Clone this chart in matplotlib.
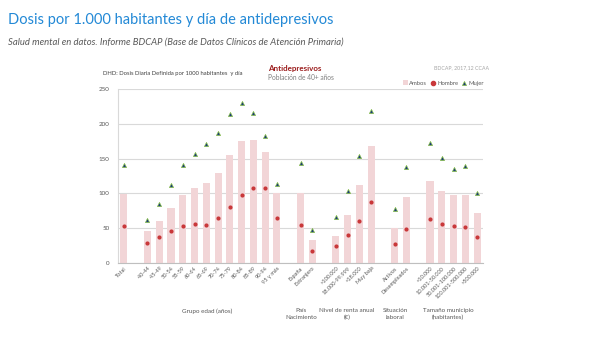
import matplotlib
matplotlib.use("Agg")
import matplotlib.pyplot as plt
from matplotlib.lines import Line2D
from matplotlib.patches import Patch

plt.rcParams['font.family'] = ['Lato', 'DejaVu Sans']

# groups of categories (a blank slot is left between groups)
group_names = ["", "Grupo edad (años)", "País\nNacimiento", "Nivel de renta anual\n(€)",
               "Situación\nlaboral", "Tamaño municipio\n(habitantes)"]
group_cats = [
    ["Total"],
    ["40-44", "45-49", "50-54", "55-59", "60-64", "65-69", "70-74", "75-79",
     "80-84", "85-89", "90-94", "95 y más"],
    ["España", "Extranjero"],
    [">100.000", "18.000-99.999", "<18.000", "Muy baja"],
    ["Activos", "Desempleados"],
    ["<10.000", "10.001-50.000", "50.001-100.000", "100.001-500.000", ">500.000"],
]

ambos = [99, 45.5, 61, 78.5, 97, 108, 115, 130, 155.5, 176, 177, 160, 100.8,
         100.8, 33, 39.3, 69, 112.3, 168.4, 50.4, 95.5,
         118.5, 104, 97, 98.4, 72.5]
hombre = [53.3, 29.3, 38, 46, 53.3, 56.6, 54.7, 64.3, 81, 98, 107.5, 108, 65.3,
          54.2, 17.8, 24, 40.8, 61, 87.8, 27.8, 48.5,
          63.8, 56.1, 52.8, 51.8, 38]
mujer = [140.6, 61.4, 85.4, 111.8, 140.6, 156.4, 170.8, 186.2, 213.5, 229.4, 216, 182.8, 113.2,
         143, 47.5, 66.7, 103, 153.6, 217.8, 77.3, 138.2,
         172.7, 151, 135.3, 139.2, 100.8]

# x positions with one empty slot between groups
xpos, labels = [], []
pos = 0
for cats in group_cats:
    for c in cats:
        xpos.append(pos)
        labels.append(c)
        pos += 1
    pos += 1
n_slots = pos - 1

fig = plt.figure(figsize=(6.09, 3.43), dpi=100)
fig.patch.set_facecolor("white")

fig.text(8 / 609, 1 - 20 / 343, "Dosis por 1.000 habitantes y día de antidepresivos",
         fontsize=10.5, color="#2389d6", va="center")
fig.text(8 / 609, 1 - 42 / 343,
         "Salud mental en datos. Informe BDCAP (Base de Datos Clínicos de Atención Primaria)",
         fontsize=6.8, style="italic", color="#595959", va="center")

ax = fig.add_axes([118 / 609, 1 - 263 / 343, 365 / 609, 174 / 343])

ax.bar(xpos, ambos, width=0.6, color="#f2d5d7", zorder=2)
ax.scatter(xpos, hombre, s=9, marker="o", color="#c9383a", zorder=3, linewidths=0)
ax.scatter(xpos, mujer, s=9, marker="^", facecolor="#1f3d7a", edgecolor="#8bc34a",
           linewidths=0.5, zorder=3)

ax.set_xlim(-0.5, n_slots - 0.5)
ax.set_ylim(0, 250)
ax.set_yticks(range(0, 251, 50))
ax.yaxis.grid(True, color="#d9d9d9", lw=0.8, zorder=0)
ax.set_axisbelow(True)
ax.tick_params(axis="y", length=0, labelsize=4.5, labelcolor="#595959", pad=6)
ax.set_xticks(xpos)
ax.set_xticklabels(labels, rotation=45, ha="right", rotation_mode="anchor",
                   fontsize=4.1, color="#595959")
ax.tick_params(axis="x", length=0, pad=2)
for s in ["top", "right"]:
    ax.spines[s].set_visible(False)
ax.spines["left"].set_color("#d9d9d9")
ax.spines["bottom"].set_color("#bfbfbf")

# group labels under the axis
group_label_x = [None, 207, 301, 347, 395, 448]
for name, gx in zip(group_names, group_label_x):
    if gx is None:
        continue
    fig.text(gx / 609, 1 - 308 / 343, name, fontsize=4.5, color="#595959",
             ha="center", va="top", linespacing=1.5)

fig.text(103 / 609, 1 - 73 / 343, "DHD: Dosis Diaria Definida por 1000 habitantes  y día",
         fontsize=4.2, color="#404040", va="center")
fig.text(268 / 609, 1 - 68 / 343, "Antidepresivos", fontsize=5.8, color="#9b1c1c",
         fontweight="bold", va="center")
fig.text(268 / 609, 1 - 78 / 343, "Población de 40+ años", fontsize=4.8, color="#7f7f7f",
         va="center")
fig.text(489 / 609, 1 - 68 / 343, "BDCAP, 2017,12 CCAA", fontsize=3.8, color="#a6a6a6",
         ha="right", va="center")

handles = [
    Patch(facecolor="#f2d5d7", label="Ambos"),
    Line2D([], [], marker="o", color="#c9383a", ls="", markersize=3, label="Hombre"),
    Line2D([], [], marker="^", markerfacecolor="#1f3d7a", markeredgecolor="#8bc34a",
           markeredgewidth=0.5, ls="", markersize=3, label="Mujer"),
]
fig.legend(handles=handles, loc="center right", bbox_to_anchor=(489 / 609, 1 - 83 / 343),
           ncol=3, frameon=False, fontsize=4.2, handlelength=0.8, handletextpad=0.3,
           columnspacing=0.6, labelcolor="#595959")

fig.savefig("out.png", dpi=100, facecolor="white")
